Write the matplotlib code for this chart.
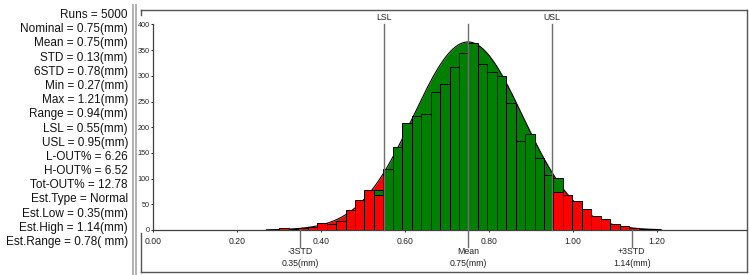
import numpy as np
import matplotlib
matplotlib.use("Agg")
import matplotlib.pyplot as plt
from matplotlib.transforms import blended_transform_factory

# summary block on the left
STAT_LINES = [
    "Runs = 5000",
    "Nominal = 0.75(mm)",
    "Mean = 0.75(mm)",
    "STD = 0.13(mm)",
    "6STD = 0.78(mm)",
    "Min = 0.27(mm)",
    "Max = 1.21(mm)",
    "Range = 0.94(mm)",
    "LSL = 0.55(mm)",
    "USL = 0.95(mm)",
    "L-OUT% = 6.26",
    "H-OUT% = 6.52",
    "Tot-OUT% = 12.78",
    "Est.Type = Normal",
    "Est.Low = 0.35(mm)",
    "Est.High = 1.14(mm)",
    "Est.Range = 0.78( mm)",
]

# histogram
BIN_START = 0.301
BIN_WIDTH = 0.0225
COUNTS = [3, 2, 3, 5, 14, 11, 17, 38, 58, 78,
          68, 118, 162, 208, 222, 225, 269, 285, 318, 344,
          364, 323, 307, 300, 248, 174, 187, 141, 108, 73,
          68, 56, 41, 28, 21, 11, 8, 4, 2, 1]
# green bars showing behind the red ones at the two spec limits
LIMIT_BINS = [10, 29]
LIMIT_GREEN = [78, 102]

MEAN = 0.75
STD = 0.13
CURVE_PEAK = 366
X_MIN, X_MAX = 0.27, 1.21
LSL, USL = 0.55, 0.95
EST_LOW, EST_HIGH = 0.35, 1.14

X_TICKS = [0.0, 0.2, 0.4, 0.6, 0.8, 1.0, 1.2]
Y_TICKS = [0, 50, 100, 150, 200, 250, 300, 350, 400]

GREEN = "#008000"
RED = "#ff0000"
LINE = "#6e6e6e"
FRAME = "#555555"

plt.rcParams["font.family"] = ["Liberation Sans", "DejaVu Sans"]

W, H = 749, 275
fig = plt.figure(figsize=(W / 100, H / 100), dpi=100)

# overlay in pixel coordinates for the frame and the text block
ov = fig.add_axes([0, 0, 1, 1])
ov.set_xlim(0, W)
ov.set_ylim(H, 0)
ov.axis("off")

for i, line in enumerate(STAT_LINES):
    ov.text(128, 15 + i * 14.19, line, ha="right", va="center", fontsize=8.5, color="#111111")

for x in (132.5, 135.5):
    ov.plot([x, x], [5, H], color="#ababab", linewidth=1.3)

ov.plot([140.5, 747], [10, 10], color=FRAME, linewidth=1)
ov.plot([747, 747], [10, 271.5], color=FRAME, linewidth=1)
ov.plot([140.5, 747], [271.5, 271.5], color=FRAME, linewidth=1)
ov.plot([140.5, 140.5], [10, 15], color=FRAME, linewidth=1)
ov.plot([140.5, 140.5], [233, 271.5], color=FRAME, linewidth=1)

# data axes
px_per_unit = 420
ax = fig.add_axes([153 / W, 45 / H, 594 / W, 205.5 / H])
ax.patch.set_alpha(0)
ax.set_xlim(0, 594 / px_per_unit)
ax.set_ylim(0, 400)

# fitted normal curve, filled by spec zone
def curve(x):
    return CURVE_PEAK * np.exp(-0.5 * ((x - MEAN) / STD) ** 2)

for lo, hi, col in [(X_MIN, LSL, RED), (LSL, USL, GREEN), (USL, X_MAX, RED)]:
    xs = np.linspace(lo, hi, 200)
    ax.fill_between(xs, 0, curve(xs), color=col, linewidth=0, zorder=1)
xs = np.linspace(X_MIN, X_MAX, 500)
ax.plot(xs, curve(xs), color="black", linewidth=0.8, zorder=2)

lefts = BIN_START + BIN_WIDTH * np.arange(len(COUNTS))
centers = lefts + BIN_WIDTH / 2
colors = [GREEN if LSL <= c <= USL else RED for c in centers]
ax.bar(lefts[LIMIT_BINS], LIMIT_GREEN, width=BIN_WIDTH, align="edge",
       color=GREEN, edgecolor="black", linewidth=0.7, zorder=3)
ax.bar(lefts, COUNTS, width=BIN_WIDTH, align="edge",
       color=colors, edgecolor="black", linewidth=0.7, zorder=4)

# spec / stat markers: x in data, y in pixels
tr = blended_transform_factory(ax.transData, ov.transData)
for x, label in [(LSL, "LSL"), (USL, "USL")]:
    ax.plot([x, x], [230, 23.5], color=LINE, linewidth=1, transform=tr, clip_on=False, zorder=6)
    ax.text(x, 17, label, transform=tr, ha="center", va="center", fontsize=6.3, color="#222222")
ax.plot([MEAN, MEAN], [247, 23.5], color=LINE, linewidth=1, transform=tr, clip_on=False, zorder=6)
for x in (EST_LOW, EST_HIGH):
    ax.plot([x, x], [230, 247], color=LINE, linewidth=1, transform=tr, clip_on=False, zorder=6)
for x, top, val in [(EST_LOW, "-3STD", EST_LOW), (MEAN, "Mean", MEAN), (EST_HIGH, "+3STD", EST_HIGH)]:
    ax.text(x, 252, top, transform=tr, ha="center", va="center", fontsize=6.3, color="#222222")
    ax.text(x, 264, f"{val:.2f}(mm)", transform=tr, ha="center", va="center", fontsize=6.3, color="#222222")

for side in ("top", "right"):
    ax.spines[side].set_visible(False)
for side in ("left", "bottom"):
    ax.spines[side].set_color("#404040")
    ax.spines[side].set_linewidth(0.9)

ax.set_xticks(X_TICKS)
ax.set_xticklabels([f"{t:.2f}" for t in X_TICKS])
ax.set_yticks(Y_TICKS)
ax.tick_params(axis="x", length=1.6, width=0.7, pad=3.2, labelsize=6.2, colors="#222222")
ax.tick_params(axis="y", length=1.6, width=0.7, pad=0.6, labelsize=5.2, colors="#222222")

fig.savefig("out.png", dpi=100)
